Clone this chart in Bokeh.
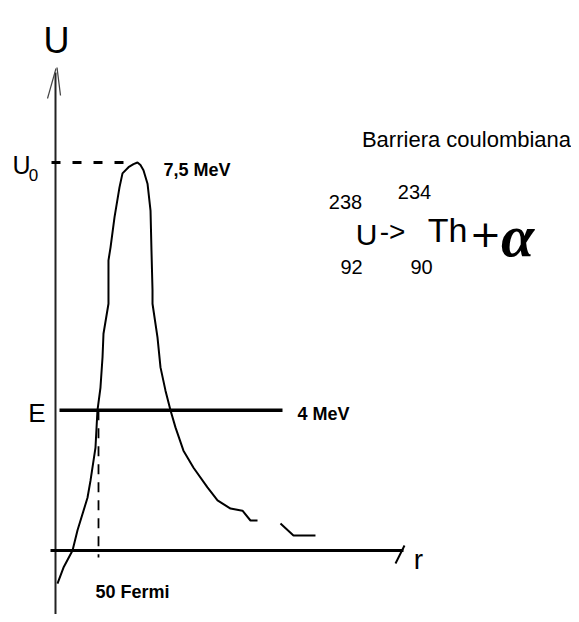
from bokeh.plotting import figure
from bokeh.models import Range1d
from bokeh.core.properties import value
from bokeh.embed import file_html
from bokeh.resources import INLINE

# ---- data (diagram units: r in Fermi, U in drawing units, peak = 7.5 MeV) ----
r_main = [2.3, 9.3, 19.8, 25.6, 37.2, 40.7, 46.5, 48.8, 52.3, 54.7, 55.8, 61.6, 61.6,
          64.0, 68.6, 74.4, 77.9, 84.9, 90.7, 95.3, 98.8, 102.3, 107.0, 110.5, 111.6,
          112.8, 112.8, 118.6, 122.1, 127.9, 133.7, 139.5, 148.8, 160.5, 176.7, 188.4,
          203.5, 217.4, 226.7, 234.9]
u_main = [-0.64, -0.33, 0.0, 0.39, 1.02, 1.35, 1.99, 2.71, 3.15, 3.74, 4.19, 4.77, 5.61,
          5.86, 6.44, 7.02, 7.29, 7.41, 7.47, 7.50, 7.45, 7.35, 7.09, 6.57, 5.80,
          5.03, 4.77, 4.12, 3.54, 3.09, 2.71, 2.38, 1.93, 1.60, 1.22, 0.97,
          0.81, 0.77, 0.58, 0.58]
r_tail = [261.6, 276.7, 302.3]
u_tail = [0.52, 0.29, 0.29]

U0 = 7.5          # barrier height (MeV)
E_level = 2.71    # alpha energy level as drawn (4 MeV)
r_fermi = 50      # 50 Fermi mark

# ---- layout helpers (picture pixel -> diagram units) ----
W, H = 571, 614
PX_PER_FM = 0.86
PX_PER_U = 51.73
OX, OY = 55, 550   # picture position of origin


def fx(X):
    return (X - OX) / PX_PER_FM


def fy(Y):
    return (OY - Y) / PX_PER_U


p = figure(width=W, height=H, output_backend="svg", toolbar_location=None,
           x_range=Range1d(fx(0), fx(W)), y_range=Range1d(fy(H), fy(0)),
           min_border=0)
p.axis.visible = False
p.grid.visible = False
p.outline_line_color = None
p.background_fill_color = "white"
p.border_fill_color = "white"

SANS = "Liberation Sans"

# axes
p.line([0, 0], [fy(625), fy(72)], line_color="#222222", line_width=2)
p.line([fx(47), fx(55.5)], [fy(98), fy(68)], line_color="#444444", line_width=1.2)
p.line([fx(56.5), fx(60)], [fy(67), fy(95)], line_color="#444444", line_width=1.2)
p.line([fx(50), fx(403)], [0, 0], line_color="black", line_width=3)
p.line([fx(395), fx(404)], [fy(563), fy(545)], line_color="black", line_width=2)

# U0 dashed level
p.line([fx(51), r_main[19] - 4], [U0, U0], line_color="black", line_width=3,
       line_dash="9 12")
# E level
p.line([fx(59), fx(282)], [E_level, E_level], line_color="black", line_width=3.5)
# 50 Fermi dashed drop
p.line([r_fermi, r_fermi], [E_level, fy(557)], line_color="black", line_width=1.8,
       line_dash="10 8")

# potential curve
p.line(r_main, u_main, line_color="black", line_width=2)
p.line(r_tail, u_tail, line_color="black", line_width=2)


def txt(X, Y, s, size, font=SANS, style="normal", align="left", shift=None):
    # Y is the wanted visual baseline; compensate the renderer's baseline offset
    if shift is None:
        shift = 4 + 0.25 * size
    p.text(x=[fx(X)], y=[fy(Y - shift)], text=[s], text_font=value(font),
           text_font_size=f"{size}px", text_font_style=style, text_color="black",
           text_align=align, text_baseline="alphabetic")


txt(56, 53, "U", 36, align="center")
txt(21, 175, "U", 25, align="center")
txt(33, 183, "0", 17, align="center")
txt(163, 178, "7,5 MeV", 18, style="bold")
txt(45, 423, "E", 26, align="right")
txt(297, 422, "4 MeV", 18, style="bold")
txt(95, 600, "50 Fermi", 18, style="bold")
txt(418, 570, "r", 28, align="center")

txt(466, 148, "Barriera coulombiana", 22, align="center")
txt(345, 210, "238", 20, align="center")
txt(366, 245, "U", 30, align="center")
txt(351, 275, "92", 20, align="center")
txt(392, 241, "->", 28, align="center", shift=10)
txt(414, 200, "234", 20, align="center")
txt(421, 275, "90", 20, align="center")
txt(447, 242, "Th", 34, align="center")
txt(485, 248, "+", 38, font="DejaVu Sans", align="center", shift=15)
txt(517, 257, "\u03b1", 60, font="Liberation Serif", style="bold italic", align="center",
    shift=22)

open("out.html", "w").write(file_html(p, INLINE))
